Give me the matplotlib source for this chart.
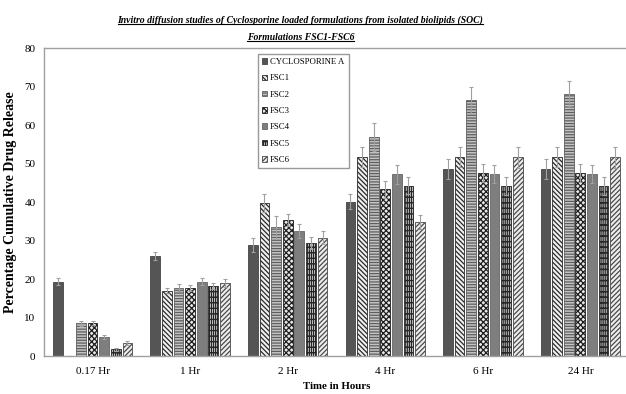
import numpy as np
import matplotlib
matplotlib.use("Agg")
import matplotlib.pyplot as plt
from matplotlib.lines import Line2D

times = ["0.17 Hr", "1 Hr", "2 Hr", "4 Hr", "6 Hr", "24 Hr"]
series = ["CYCLOSPORINE A", "FSC1", "FSC2", "FSC3", "FSC4", "FSC5", "FSC6"]

cyclosporine = [19.3, 26.0, 28.8, 40.1, 48.6, 48.6]
fsc1 = [0.0, 17.0, 39.8, 51.6, 51.6, 51.6]
fsc2 = [8.5, 17.8, 33.5, 57.0, 66.5, 68.2]
fsc3 = [8.6, 17.8, 35.3, 43.3, 47.6, 47.6]
fsc4 = [5.0, 19.3, 32.5, 47.2, 47.3, 47.3]
fsc5 = [1.8, 18.3, 29.4, 44.3, 44.2, 44.2]
fsc6 = [3.5, 19.0, 30.8, 34.8, 51.6, 51.6]

err_cyclosporine = [0.9, 1.1, 1.8, 2.0, 2.5, 2.6]
err_fsc1 = [0.0, 0.7, 2.3, 2.6, 2.6, 2.6]
err_fsc2 = [0.7, 0.9, 3.0, 3.6, 3.5, 3.3]
err_fsc3 = [0.6, 0.8, 1.6, 2.2, 2.4, 2.4]
err_fsc4 = [0.5, 0.9, 1.8, 2.4, 2.3, 2.3]
err_fsc5 = [0.4, 0.8, 1.6, 2.3, 2.4, 2.4]
err_fsc6 = [0.5, 1.0, 1.7, 1.8, 2.8, 2.8]

values = [cyclosporine, fsc1, fsc2, fsc3, fsc4, fsc5, fsc6]
errors = [err_cyclosporine, err_fsc1, err_fsc2, err_fsc3, err_fsc4, err_fsc5, err_fsc6]

# look of each series (grey-scale patterns like the original)
faces = ["#555555", "#f0f0f0", "#c4c4c4", "#e8e8e8", "#7e7e7e", "#d8d8d8", "#eeeeee"]
hatches = [None, "\\\\\\\\\\\\\\", "------", "xxxxxx", None, "|||||+++", "///////"]
edges = ["#444444", "#2a2a2a", "#5e5e5e", "#1e1e1e", "#666666", "#262626", "#4a4a4a"]

plt.rcParams["font.family"] = ["Liberation Serif", "DejaVu Serif"]
plt.rcParams["hatch.linewidth"] = 0.9

fig = plt.figure(figsize=(6.26, 3.94), dpi=100)
ax = fig.add_axes([0.070, 0.096, 0.935, 0.782])

x = np.arange(len(times))
width = 0.1
step = 0.119
for i, name in enumerate(series):
    pos = x + (i - 3) * step
    ax.bar(pos, values[i], width, color=faces[i], hatch=hatches[i],
           edgecolor=edges[i], linewidth=0.6, label=name)
    ax.errorbar(pos, values[i], yerr=errors[i], fmt="none",
                ecolor="#a0a0a0", elinewidth=0.8, capsize=1.5, capthick=0.8)

ax.set_xlim(-0.5, len(times) - 0.5)
ax.set_ylim(0, 80)
ax.set_yticks(range(0, 81, 10))
ax.set_xticks(x)
ax.set_xticklabels(times, fontsize=8)
ax.tick_params(axis="y", labelsize=8, length=0, pad=6)
ax.tick_params(axis="x", length=0, pad=8)
for s in ax.spines.values():
    s.set_color("#a0a0a0")
    s.set_linewidth(1.0)

ax.set_ylabel("Percentage Cumulative Drug Release", fontsize=10,
              fontweight="bold", labelpad=5)
ax.set_xlabel("Time in Hours", fontsize=7.8, fontweight="bold", labelpad=4)

leg = ax.legend(loc="upper left", bbox_to_anchor=(0.358, 0.996), fontsize=6.3,
                frameon=True, fancybox=False, edgecolor="#808080",
                handlelength=0.6, handleheight=0.6, handletextpad=0.3,
                labelspacing=0.95, borderpad=0.5)
leg.get_frame().set_linewidth(1.0)

t1 = fig.text(0.48, 0.950, "Invitro diffusion studies of Cyclosporine loaded formulations from isolated biolipids (SOC)",
              ha="center", va="center", fontsize=7.0, fontweight="bold", fontstyle="italic")
t2 = fig.text(0.48, 0.905, "Formulations FSC1-FSC6",
              ha="center", va="center", fontsize=7.0, fontweight="bold", fontstyle="italic")

# underline the title lines
fig.canvas.draw()
inv = fig.transFigure.inverted()
for t in (t1, t2):
    bb = t.get_window_extent()
    (x0, y0), (x1, y1) = inv.transform([(bb.x0, bb.y0), (bb.x1, bb.y1)])
    fig.add_artist(Line2D([x0, x1], [y0 + 0.002, y0 + 0.002], color="black",
                          linewidth=0.8, transform=fig.transFigure))

fig.savefig("out.png", dpi=100)
